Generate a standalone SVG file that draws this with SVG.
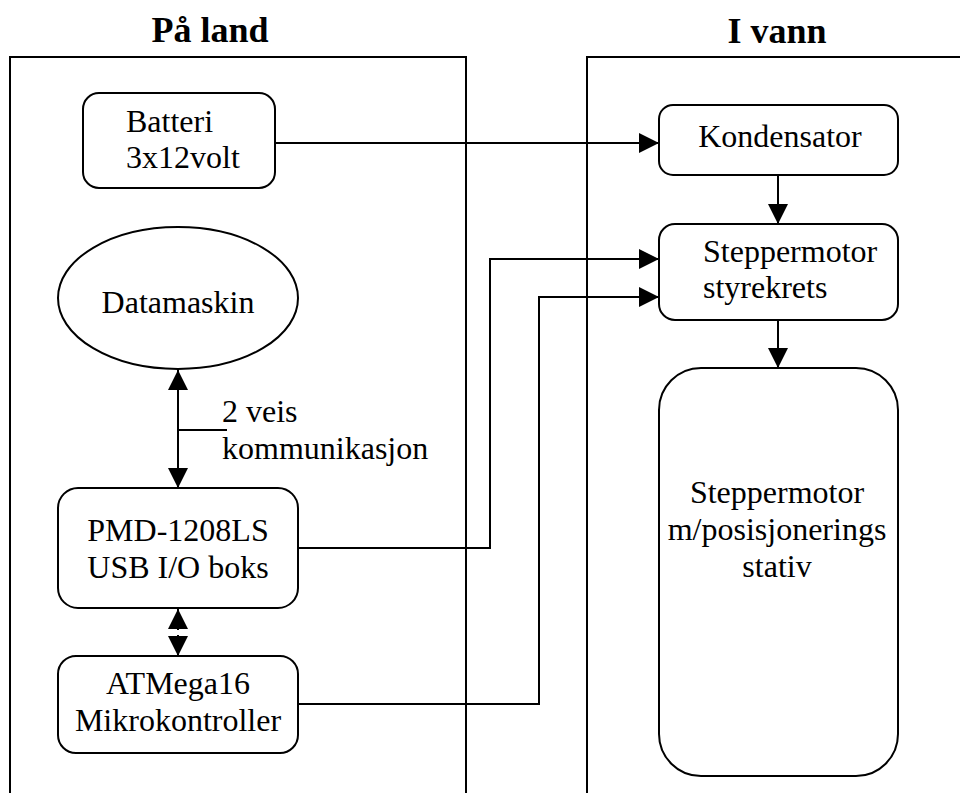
<svg xmlns="http://www.w3.org/2000/svg" width="960" height="793" viewBox="0 0 960 793">
<style>
.f{fill:none;stroke:#000;stroke-width:2}
.b{fill:#fff;stroke:#000;stroke-width:2}
.t{font-family:"Liberation Serif","Times New Roman",serif;font-size:32px;fill:#000}
.m{text-anchor:middle}
.h{font-family:"Liberation Serif","Times New Roman",serif;font-size:36px;font-weight:bold;fill:#000;text-anchor:middle}
.c{fill:none;stroke:#000;stroke-width:2}
</style>
<defs>
<marker id="a" viewBox="0 0 20 20" refX="20" refY="10" markerWidth="20" markerHeight="20" markerUnits="userSpaceOnUse" orient="auto-start-reverse">
<path d="M0,0 L20,10 L0,20 Z" fill="#000"/>
</marker>
</defs>
<rect width="960" height="793" fill="#fff"/>
<g id="frame-land">
<text class="h" x="210" y="42">På land</text>
<path class="f" d="M10,800 V57 H466 V800"/>
</g>
<g id="frame-vann">
<text class="h" x="777" y="43">I vann</text>
<path class="f" d="M587,800 V57 H970"/>
</g>
<g id="connectors">
<line class="c" x1="275" y1="143" x2="659" y2="143" marker-end="url(#a)"/>
<line class="c" x1="778" y1="175" x2="778" y2="224" marker-end="url(#a)"/>
<line class="c" x1="778" y1="320" x2="778" y2="368" marker-end="url(#a)"/>
<polyline class="c" points="298,548 490,548 490,259 659,259" marker-end="url(#a)"/>
<polyline class="c" points="298,704 539,704 539,297 659,297" marker-end="url(#a)"/>
<line class="c" x1="178" y1="370" x2="178" y2="488" marker-start="url(#a)" marker-end="url(#a)"/>
<line class="c" x1="178" y1="430" x2="227" y2="430"/>
<text class="t" x="222" y="422">2 veis</text>
<text class="t" x="222" y="459">kommunikasjon</text>
<line class="c" x1="178" y1="609" x2="178" y2="630" marker-start="url(#a)"/>
<line class="c" x1="178" y1="635" x2="178" y2="656" marker-end="url(#a)"/>
</g>
<g id="batteri">
<rect class="b" x="83" y="93" width="192" height="95" rx="16"/>
<text class="t" x="126" y="132">Batteri</text>
<text class="t" x="126" y="168">3x12volt</text>
</g>
<g id="datamaskin">
<ellipse class="b" cx="178" cy="298" rx="120" ry="71"/>
<text class="t m" x="178" y="313">Datamaskin</text>
</g>
<g id="pmd">
<rect class="b" x="58" y="488" width="240" height="120" rx="20"/>
<text class="t m" x="178" y="541">PMD-1208LS</text>
<text class="t m" x="178" y="578">USB I/O boks</text>
</g>
<g id="atmega">
<rect class="b" x="58" y="656" width="240" height="97" rx="18"/>
<text class="t m" x="178" y="694">ATMega16</text>
<text class="t m" x="178" y="731">Mikrokontroller</text>
</g>
<g id="kondensator">
<rect class="b" x="659" y="105" width="239" height="70" rx="14"/>
<text class="t m" x="780" y="147">Kondensator</text>
</g>
<g id="styrekrets">
<rect class="b" x="659" y="224" width="239" height="96" rx="16"/>
<text class="t" x="703" y="262">Steppermotor</text>
<text class="t" x="703" y="298">styrekrets</text>
</g>
<g id="steppermotor">
<rect class="b" x="659" y="368" width="239" height="408" rx="42"/>
<text class="t m" x="777" y="503">Steppermotor</text>
<text class="t m" x="777" y="540">m/posisjonerings</text>
<text class="t m" x="777" y="577">stativ</text>
</g>
</svg>
